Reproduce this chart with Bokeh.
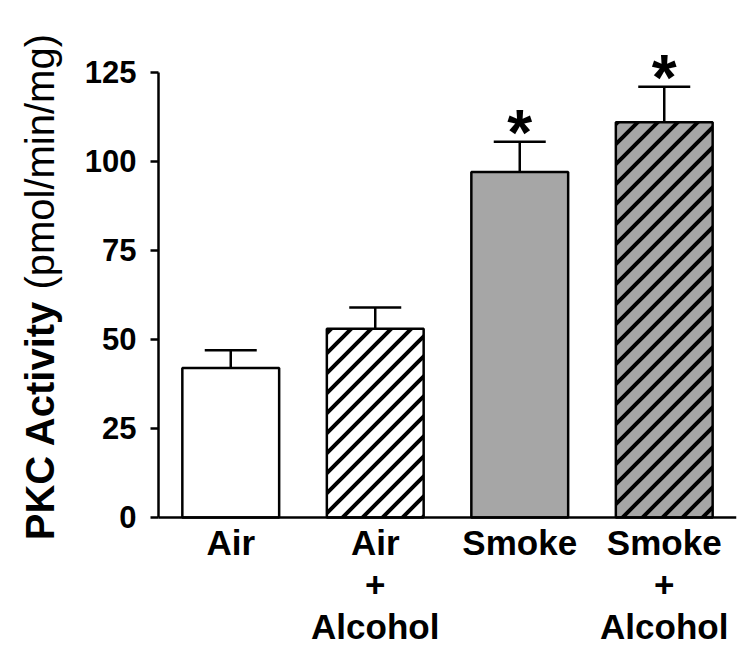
import math
import base64
from bokeh.plotting import figure
from bokeh.models import (ColumnDataSource, Whisker, TeeHead, Label, FixedTicker,
                          Range1d, ImageURLTexture)
from bokeh.core.properties import value
from bokeh.embed import file_html
from bokeh.resources import INLINE

groups = ["Air", "Air\n+\nAlcohol", "Smoke", "Smoke\n+\nAlcohol"]
means = [42, 53, 97, 111]
sems = [5, 6, 8.5, 10]
fills = ["#ffffff", "#ffffff", "#a6a6a6", "#a6a6a6"]
hatches = [" ", "d45", " ", "d45"]
significant = [False, False, True, True]
y_ticks = [0, 25, 50, 75, 100, 125]

FONT = "Liberation Sans"

xs = list(range(1, len(groups) + 1))
uppers = [m + s for m, s in zip(means, sems)]
src = ColumnDataSource(dict(x=xs, top=means, upper=uppers, fill=fills, hatch=hatches))

star_x = [x for x, s in zip(xs, significant) if s]
star_y = [u for u, s in zip(uppers, significant) if s]
star_src = ColumnDataSource(dict(x=star_x, y=[v + 2.5 for v in star_y]))

# 45 degree stripe texture
tile_svg = ('<svg xmlns="http://www.w3.org/2000/svg" width="20" height="20">'
            '<path d="M-10,10 L10,-10 M0,20 L20,0 M10,30 L30,10" '
            'stroke="black" stroke-width="4"/></svg>')
tile_url = "data:image/svg+xml;base64," + base64.b64encode(tile_svg.encode()).decode()
stripes = ImageURLTexture(url=tile_url, repetition="repeat")

# the frame covers the whole canvas so that nothing outside the data area is
# clipped; both axes are pinned with fixed_location
p = figure(frame_width=736, frame_height=650,
           x_range=Range1d(-0.5934, 4.5), y_range=Range1d(-37.36, 145.2),
           output_backend="svg", toolbar_location=None,
           min_border_left=0, min_border_right=6, min_border_top=0,
           min_border_bottom=0)

lab1 = Label(x=-0.3166, y=-6.4, text="PKC Activity", angle=math.pi / 2,
             text_font=FONT, text_font_style="bold", text_font_size="40px",
             text_align="left", text_baseline="alphabetic", text_color="black")
lab2 = Label(x=-0.3166, y=64.0, text="(pmol/min/mg)", angle=math.pi / 2,
             text_font=FONT, text_font_style="normal", text_font_size="40px",
             text_align="left", text_baseline="alphabetic", text_color="black")
p.add_layout(lab1)
p.add_layout(lab2)

p.vbar(x="x", top="top", bottom=0, width=0.67, fill_color="fill",
       line_color="black", line_width=2.5, hatch_pattern="hatch",
       hatch_extra={"d45": stripes}, source=src)

wh = Whisker(base="x", lower="top", upper="upper", source=src,
             line_width=2.5, line_color="black",
             upper_head=TeeHead(size=52, line_width=2.5, line_color="black"),
             lower_head=None, level="overlay")
p.add_layout(wh)

p.text(x="x", y="y", text=value("*"), source=star_src,
       text_font=value(FONT), text_font_style="bold", text_font_size="64px",
       text_align="center", text_baseline="alphabetic", text_color="black")

p.xgrid.visible = False
p.ygrid.visible = False
p.outline_line_color = None
p.background_fill_color = "white"
p.border_fill_color = "white"

ya = p.yaxis[0]
ya.fixed_location = 0.5
ya.ticker = FixedTicker(ticks=y_ticks)
ya.bounds = (0, 125)
ya.axis_line_width = 2.5
ya.axis_line_color = "black"
ya.major_tick_line_width = 2.5
ya.major_tick_line_color = "black"
ya.major_tick_out = 8
ya.major_tick_in = 0
ya.minor_tick_line_color = None
ya.major_label_text_font = FONT
ya.major_label_text_font_style = "bold"
ya.major_label_text_font_size = "31px"
ya.major_label_text_color = "black"
ya.major_label_standoff = 14

xa = p.xaxis[0]
xa.fixed_location = 0
xa.ticker = FixedTicker(ticks=xs)
xa.bounds = (0.5, 4.5)
xa.major_label_overrides = {x: g for x, g in zip(xs, groups)}
xa.axis_line_width = 2.5
xa.axis_line_color = "black"
xa.major_tick_line_color = None
xa.minor_tick_line_color = None
xa.major_label_text_font = FONT
xa.major_label_text_font_style = "bold"
xa.major_label_text_font_size = "35px"
xa.major_label_text_color = "black"
xa.major_label_text_line_height = 1.07
xa.major_label_standoff = 0

open("out.html", "w").write(file_html(p, INLINE))
